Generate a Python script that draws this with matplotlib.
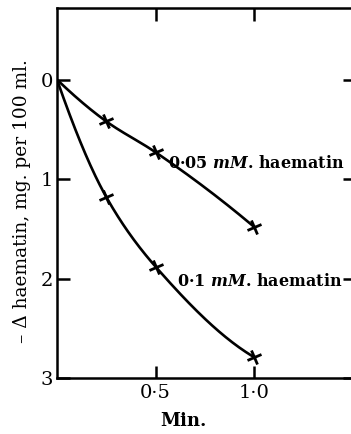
import numpy as np
import matplotlib
matplotlib.use("Agg")
import matplotlib.pyplot as plt
from matplotlib.markers import MarkerStyle
from matplotlib.transforms import Affine2D

# Data
time_low = [0.0, 0.25, 0.5, 1.0]
haem_low = [0.0, 0.42, 0.73, 1.48]      # 0.05 mM haematin
time_high = [0.0, 0.25, 0.5, 1.0]
haem_high = [0.0, 1.18, 1.88, 2.79]     # 0.1 mM haematin
label_low = "0·05 $\\boldsymbol{mM}$. haematin"
label_high = "0·1 $\\boldsymbol{mM}$. haematin"
xtick_vals = [0.5, 1.0]
xtick_labels = ["0·5", "1·0"]
ytick_vals = [0, 1, 2, 3]
ytick_labels = ["0", "1", "2", "3"]

plt.rcParams['font.family'] = ['DejaVu Serif']
plt.rcParams['mathtext.fontset'] = 'dejavuserif'


def smooth(xs, ys, n=60):
    """Monotone cubic (PCHIP) drawing path through the given points."""
    x = np.asarray(xs, float)
    y = np.asarray(ys, float)
    h = np.diff(x)
    d = np.diff(y) / h
    m = np.zeros_like(x)
    for k in range(1, len(x) - 1):
        if d[k - 1] * d[k] > 0:
            w1 = 2 * h[k] + h[k - 1]
            w2 = h[k] + 2 * h[k - 1]
            m[k] = (w1 + w2) / (w1 / d[k - 1] + w2 / d[k])
    m[0] = ((2 * h[0] + h[1]) * d[0] - h[0] * d[1]) / (h[0] + h[1])
    m[-1] = ((2 * h[-1] + h[-2]) * d[-1] - h[-1] * d[-2]) / (h[-1] + h[-2])
    px, py = [], []
    for k in range(len(x) - 1):
        t = np.linspace(0, 1, n)
        h00 = 2 * t**3 - 3 * t**2 + 1
        h10 = t**3 - 2 * t**2 + t
        h01 = -2 * t**3 + 3 * t**2
        h11 = t**3 - t**2
        px.append(x[k] + t * h[k])
        py.append(h00 * y[k] + h10 * h[k] * m[k] + h01 * y[k + 1] + h11 * h[k] * m[k + 1])
    return np.concatenate(px), np.concatenate(py)


fig = plt.figure(figsize=(3.51, 4.34), dpi=100)
W, H = 351, 434
left, right, top, bottom = 57, 354.5, 8, 378
ax = fig.add_axes([left / W, 1 - bottom / H, (right - left) / W, (bottom - top) / H])

mk = MarkerStyle('+', transform=Affine2D().rotate_deg(20))
for xs, ys in [(time_low, haem_low), (time_high, haem_high)]:
    sx, sy = smooth(xs, ys)
    ax.plot(sx, sy, color='black', lw=1.9, solid_capstyle='round')
    ax.plot(xs[1:], ys[1:], linestyle='none', marker=mk, markersize=11,
            markeredgewidth=2.0, color='black')

ax.set_xlim(0, 1.51)
ax.set_ylim(3, -0.72)

ax.set_xticks(xtick_vals)
ax.set_xticklabels(xtick_labels, fontsize=14)
ax.set_yticks(ytick_vals)
ax.set_yticklabels(ytick_labels, fontsize=14)
ax.tick_params(direction='in', length=9, width=1.8, top=True, right=True,
               pad=4, colors='black')
ax.tick_params(axis='y', pad=3)
for s in ax.spines.values():
    s.set_linewidth(1.8)

ax.text(0.565, 0.84, label_low, fontsize=11.5, fontweight='bold', va='center', ha='left')
ax.text(0.61, 2.03, label_high, fontsize=11.5, fontweight='bold', va='center', ha='left')

ax.set_xlabel("Min.", fontsize=13, fontweight='bold')
ax.xaxis.set_label_coords((183 - left) / (right - left), -(412 - bottom) / (bottom - top))
ax.set_ylabel("– Δ haematin, mg. per 100 ml.", fontsize=13.4)
ax.yaxis.set_label_coords(-(57 - 31) / (right - left), (bottom - 201) / (bottom - top))

fig.savefig("out.png", dpi=100)
